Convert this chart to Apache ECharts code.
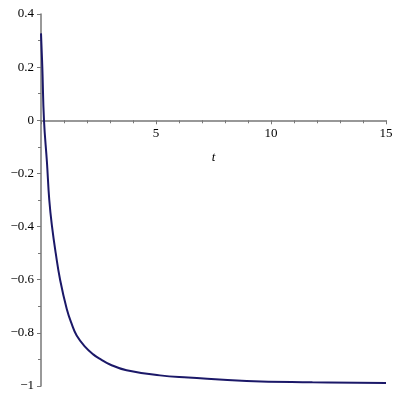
<!DOCTYPE html>
<html>
<head>
<meta charset="utf-8">
<title>t plot</title>
<script src="https://cdn.jsdelivr.net/npm/echarts@6/dist/echarts.min.js"></script>
<style>
  html, body { margin: 0; padding: 0; background: #fff; }
  #chart { width: 400px; height: 400px; }
</style>
</head>
<body>
<div id="chart"></div>
<script>
// values
const tValues = [0, 0.057, 0.13, 0.26, 0.36, 0.48, 0.64, 0.83, 1.12, 1.35, 1.55, 1.9, 2.27, 2.6, 3.0, 3.72, 5.17, 6.4, 8.94, 11.8, 15];
const yValues = [0.327, 0.2, 0, -0.16, -0.3, -0.4, -0.5, -0.6, -0.71, -0.77, -0.81, -0.851, -0.881, -0.9, -0.919, -0.941, -0.96, -0.968, -0.981, -0.986, -0.989];
const xTicks = [5, 10, 15];
const yTicks = [0.4, 0.2, 0, -0.2, -0.4, -0.6, -0.8, -1];
const yMin = -1, yMax = 0.4;

const points = tValues.map((t, i) => [t, yValues[i]]);

const fmtY = function (v) {
  const r = Math.round(v * 10) / 10;
  if (r === 0) return '0';
  const s = String(Math.abs(r));
  return r < 0 ? '\u2212' + s : s;
};

const axisGray = '#777';
const labelFont = { fontFamily: 'Liberation Serif', fontSize: 13, color: '#000' };

const chartEl = document.getElementById('chart');
const myChart = echarts.init(chartEl);

// plot box, and a second box that ends at y = 0 so the t axis sits there with its labels
const padTop = 14, padBottom = 14, plotH = 400 - padTop - padBottom;
const zeroBottom = padBottom + plotH * (0 - yMin) / (yMax - yMin);

const option = {
  animation: false,
  backgroundColor: '#fff',
  grid: [
    { left: 41, right: 14, top: padTop, bottom: padBottom, outerBoundsMode: 'none' },
    { left: 41, right: 14, top: padTop, bottom: zeroBottom, outerBoundsMode: 'none' }
  ],
  xAxis: [
    { type: 'value', gridIndex: 0, min: 0, max: 15, show: false },
    {
      type: 'value',
      gridIndex: 1,
      min: 0,
      max: 15,
      interval: 5,
      name: 't',
      nameLocation: 'middle',
      nameGap: 31,
      nameTextStyle: Object.assign({}, labelFont, { fontStyle: 'italic' }),
      axisLine: { onZero: false, lineStyle: { color: axisGray, width: 1.5 } },
      axisTick: { length: 4, lineStyle: { color: axisGray } },
      minorTick: { show: true, splitNumber: 5, length: 3, lineStyle: { color: axisGray } },
      splitLine: { show: false },
      axisLabel: Object.assign({ margin: 7, formatter: v => (xTicks.indexOf(v) >= 0 ? String(v) : '') }, labelFont)
    }
  ],
  yAxis: [
    {
      type: 'value',
      gridIndex: 0,
      min: yMin,
      max: yMax,
      interval: 0.2,
      axisLine: { show: true, onZero: false, lineStyle: { color: axisGray, width: 1.5 } },
      axisTick: { show: true, length: 4, lineStyle: { color: axisGray } },
      minorTick: { show: true, splitNumber: 2, length: 3, lineStyle: { color: axisGray } },
      splitLine: { show: false },
      axisLabel: Object.assign({
        margin: 7,
        formatter: v => {
          const s = fmtY(v);
          return yTicks.some(k => fmtY(k) === s) ? s : '';
        }
      }, labelFont)
    },
    { type: 'value', gridIndex: 1, min: 0, max: yMax, show: false }
  ],
  series: [{
    type: 'line',
    xAxisIndex: 0,
    yAxisIndex: 0,
    data: points,
    showSymbol: false,
    smooth: 0.45,
    lineStyle: { color: '#1b1868', width: 2 },
    silent: true,
    z: 3
  }]
};

myChart.setOption(option);
</script>
</body>
</html>
